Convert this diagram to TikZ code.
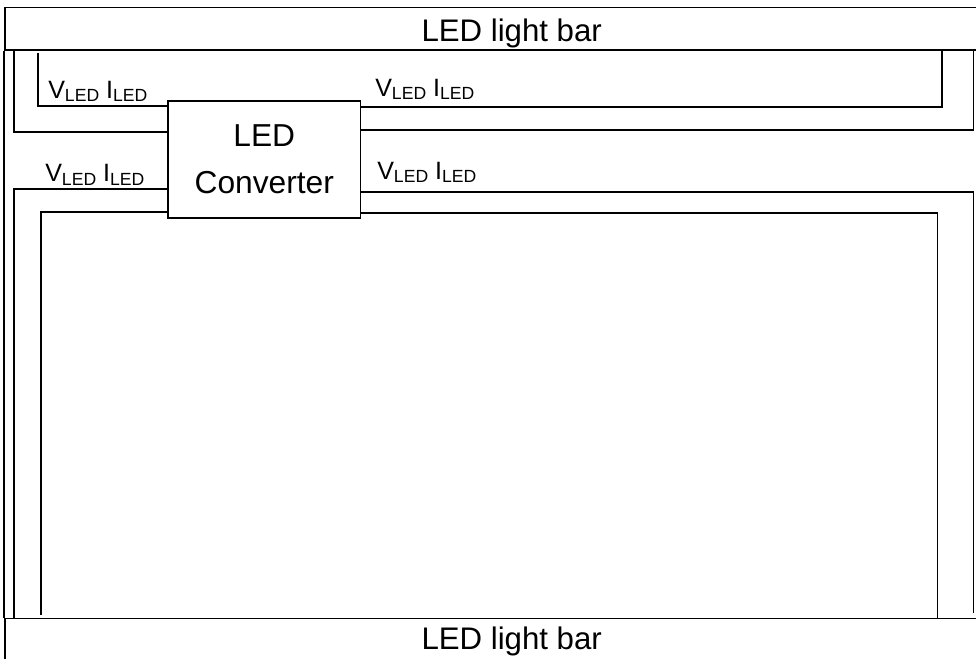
\documentclass[tikz,border=0pt]{standalone}
\usepackage{fontspec}
\setmainfont{Liberation Sans}
\newcommand{\subled}[1]{#1\raisebox{-2.6pt}{\fontsize{13.2}{13.2}\selectfont LED}}
\begin{document}
\begin{tikzpicture}[x=0.75pt,y=-0.75pt,
  bar/.style={draw, line width=1.1pt, minimum width=759.75pt, minimum height=32pt, inner sep=0pt},
  bartext/.style={anchor=base, inner sep=0pt, font=\fontsize{23.4}{28}\selectfont},
  convbox/.style={draw, line width=1.2pt, minimum width=144.4pt, minimum height=87.75pt, align=center, inner sep=0pt, font=\fontsize{23.8}{35.3}\selectfont},
  wire/.style={line width=1.25pt},
  vilabel/.style={anchor=base west, inner sep=0pt, font=\fontsize{18.8}{20}\selectfont}]

\useasboundingbox (0,0) rectangle (976,658);

% light bars
\node[bar] (topbar) at (511.5,28.65) {};
\node[bar] (botbar) at (511.5,640.05) {};
\node[bartext] (toptext) at (511.7,41.7) {LED light bar};
\node[bartext] (bottext) at (511.7,649) {LED light bar};
\draw[wire] (topbar.south west) -- (botbar.north west);

% converter
\node[convbox] (conv) at (264.3,159.5) {LED\\Converter};

% left wires
\coordinate (tl1) at (37.7,52.5);
\coordinate (bl4) at (40.7,615);
\draw[wire] (conv.west |- 0,106) -| (tl1);
\draw[wire] (conv.west |- 0,132) -| (topbar.south -| 13.7,0);
\draw[wire] (conv.west |- 0,189) -| (botbar.north -| 13.7,0);
\draw[wire] (conv.west |- 0,212) -| (bl4);

% right wires
\coordinate (br3) at (973.5,612.7);
\draw[wire] (conv.east |- 0,106.7) -| (topbar.south -| 942,0);
\draw[wire] (conv.east |- 0,130.3) -| (topbar.south -| 973.5,0);
\draw[wire] (conv.east |- 0,192) -| (br3);
\draw[wire] (conv.east |- 0,213) -| (botbar.north -| 937.5,0);

\node[vilabel] (vi1) at (48,98) {\subled{V} \subled{I}};
\node[vilabel] (vi2) at (45,181.7) {\subled{V} \subled{I}};
\node[vilabel] (vi3) at (375,96) {\subled{V} \subled{I}};
\node[vilabel] (vi4) at (377,179) {\subled{V} \subled{I}};
\end{tikzpicture}
\end{document}
